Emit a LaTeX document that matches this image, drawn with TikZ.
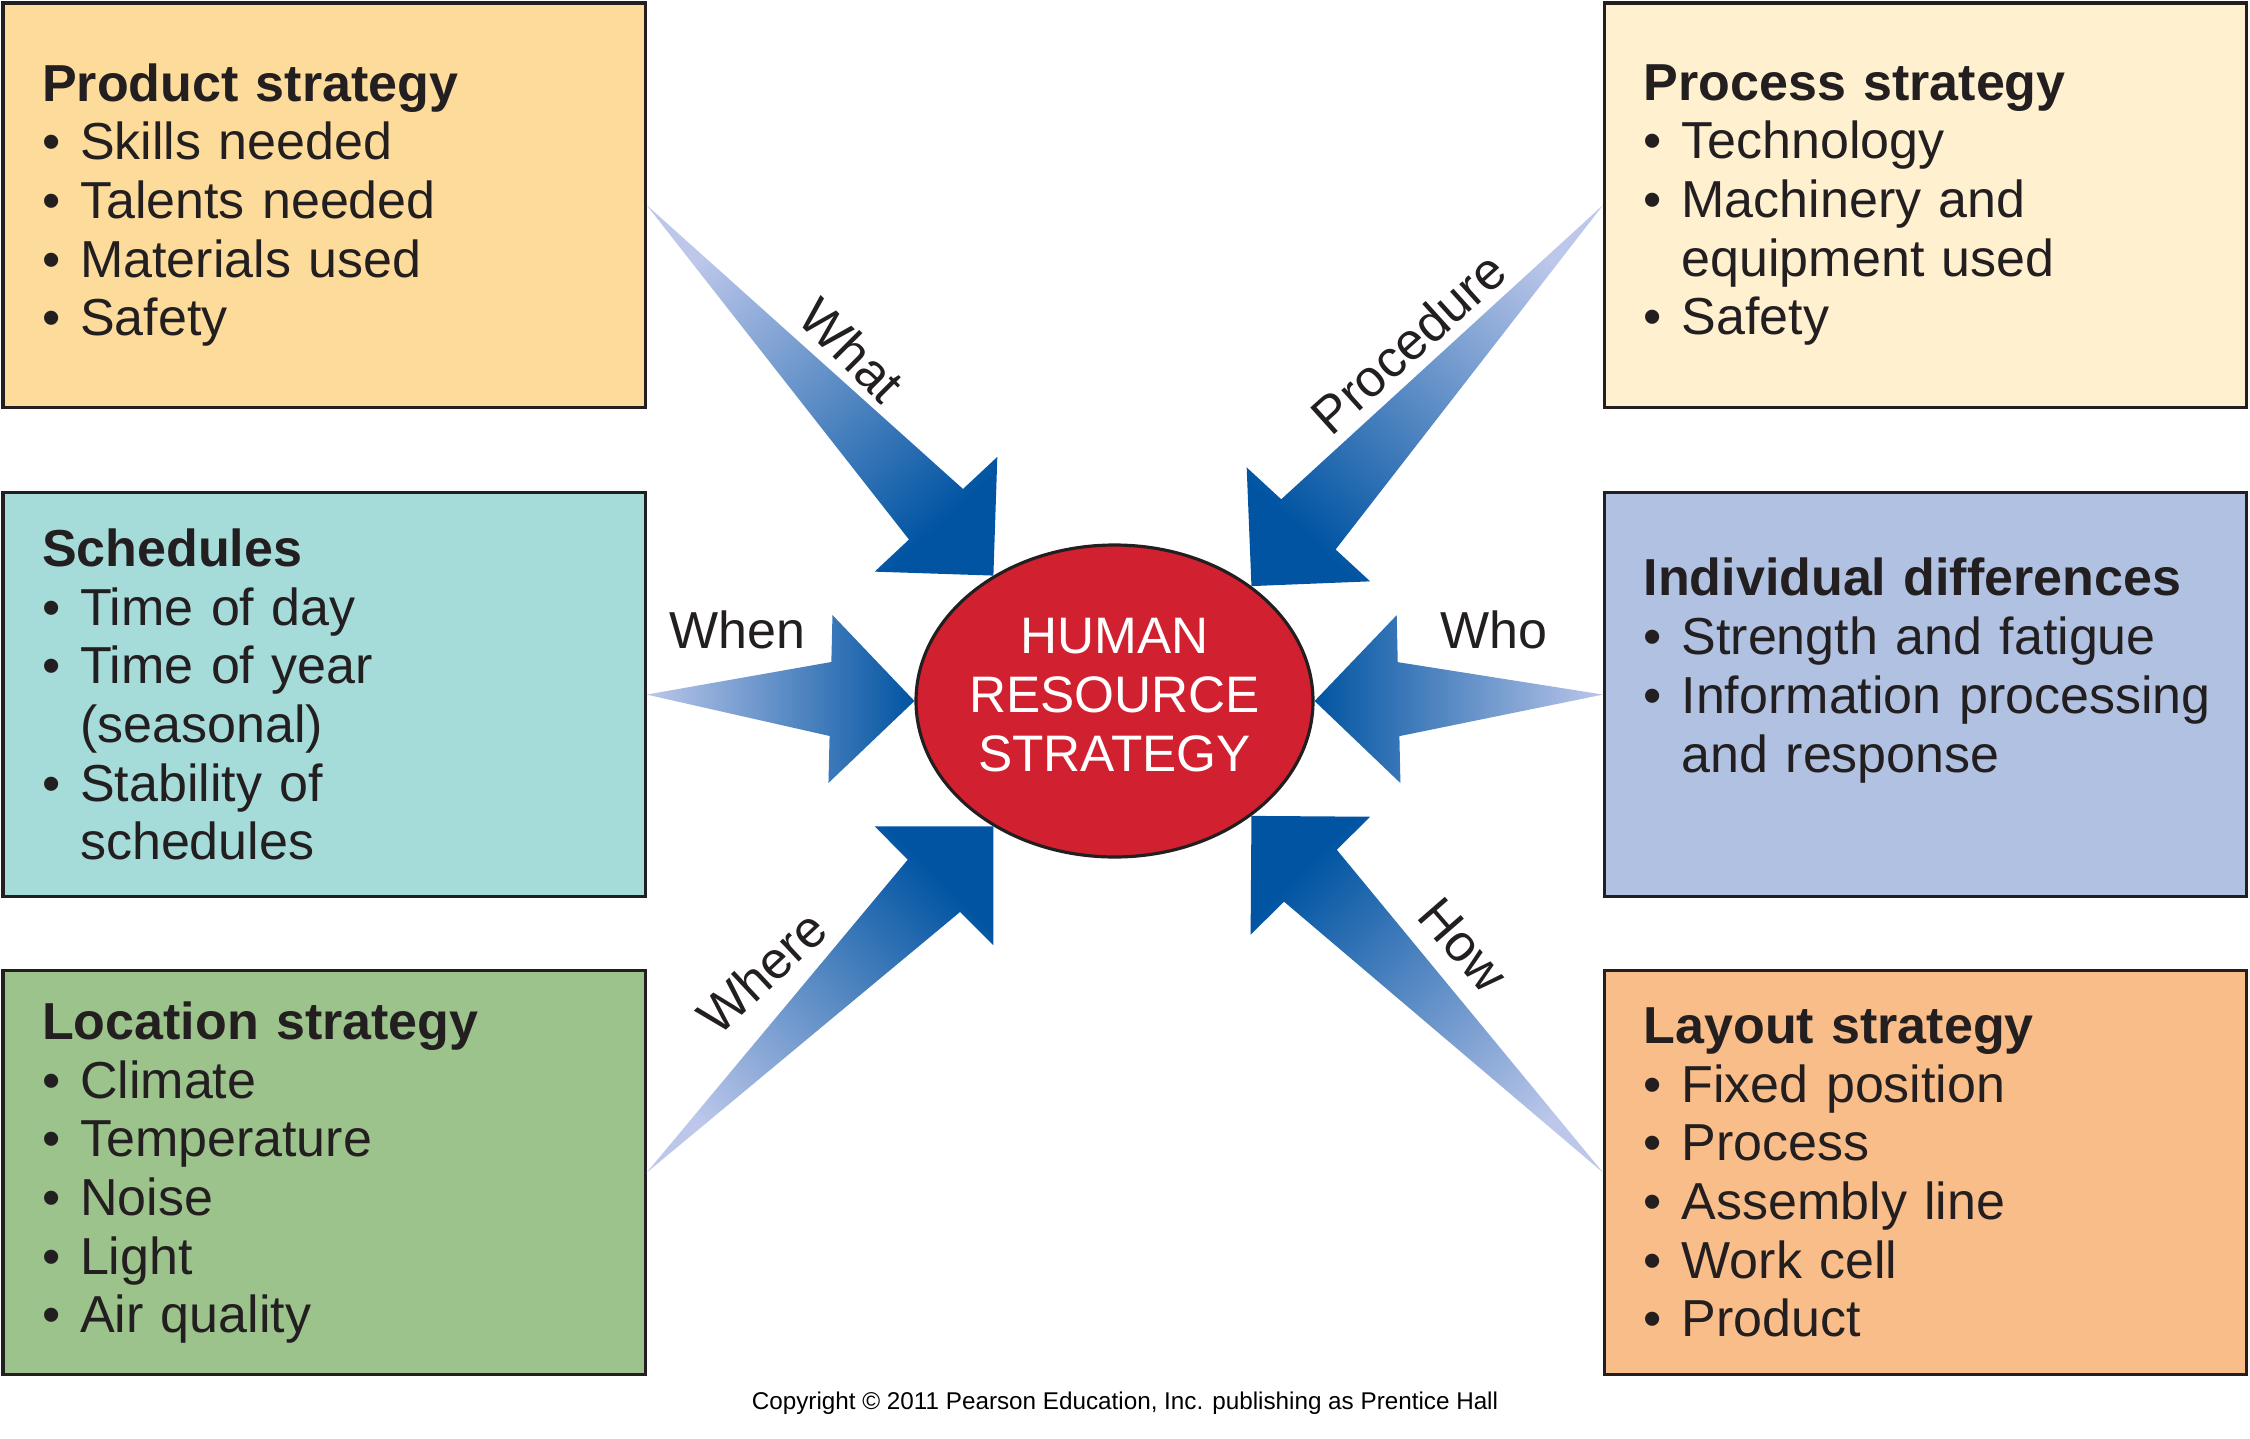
\documentclass[tikz,border=0pt]{standalone}
\usepackage{fontspec}
\setmainfont{Liberation Sans}
\usepackage{tikz}
\usetikzlibrary{calc,positioning,shapes.geometric}
\definecolor{ink}{HTML}{231F20}
\definecolor{prodfill}{HTML}{FDDC9B}
\definecolor{procfill}{HTML}{FFF0CF}
\definecolor{schedfill}{HTML}{A5DBD8}
\definecolor{indivfill}{HTML}{B1C1E1}
\definecolor{locfill}{HTML}{9DC38C}
\definecolor{layfill}{HTML}{F9BD89}
\definecolor{hrsred}{HTML}{D1202F}
\definecolor{arrowlight}{RGB}{188,199,234}
\definecolor{arrowdark}{RGB}{0,84,162}

\newcommand{\bul}{\makebox[0.38cm][l]{\textbullet}}
\newcommand{\contd}{\hspace*{0.38cm}}
% fat tapering arrow: #1 tail, #2 tip, #3 shading angle
\newcommand{\fatarrow}[3]{%
  \coordinate (fa-base) at ($(#2)!0.84cm!(#1)$);
  \shade[top color=arrowlight,bottom color=arrowdark,shading angle=#3]
    (#1) -- ($(fa-base)!0.37cm!90:(#2)$) -- ($(fa-base)!0.84cm!90:(#2)$)
    -- (#2) -- ($(fa-base)!0.84cm!-90:(#2)$) -- ($(fa-base)!0.37cm!-90:(#2)$) -- cycle;
}

\begin{document}
\begin{tikzpicture}[
  hrbox/.style={draw=ink,line width=0.9pt,anchor=north west,minimum width=6.42cm,
    minimum height=4.04cm,text width=5.64cm,inner xsep=0.39cm,inner ysep=0pt,
    align=left,text=ink,font=\fontsize{14.8}{16.7}\selectfont},
  hrsnode/.style={ellipse,draw=ink,line width=0.9pt,fill=hrsred,text=white,
    minimum width=3.97cm,minimum height=3.12cm,inner sep=0pt,
    font=\fontsize{14.6}{16.8}\selectfont},
  lbl/.style={text=ink,inner sep=0pt,font=\fontsize{14.8}{16.5}\selectfont}]
\fill[white] (0,0) rectangle (22.5,-14.38);
\useasboundingbox (0,0) rectangle (22.5,-14.38);

% boxes
\node[hrbox,fill=prodfill] (pst) at (0.015,-0.015) {\textbf{Product strategy}\\
  \bul Skills needed\\ \bul Talents needed\\ \bul Materials used\\ \bul Safety};
\node[hrbox,fill=schedfill] (sch) at (0.015,-4.91) {\textbf{Schedules}\\
  \bul Time of day\\ \bul Time of year\\ \contd(seasonal)\\ \bul Stability of\\ \contd schedules};
\node[hrbox,fill=locfill] (loc) at (0.015,-9.69) {\textbf{Location strategy}\\
  \bul Climate\\ \bul Temperature\\ \bul Noise\\ \bul Light\\ \bul Air quality};
\node[hrbox,fill=procfill] (prc) at (16.03,-0.015) {\textbf{Process strategy}\\
  \bul Technology\\ \bul Machinery and\\ \contd equipment used\\ \bul Safety};
\node[hrbox,fill=indivfill] (ind) at (16.03,-4.91) {\textbf{\mbox{Individual differences}}\\
  \bul Strength and fatigue\\ \bul\mbox{Information processing}\\ \contd and response\par\vspace*{0.48cm}};
\node[hrbox,fill=layfill] (lay) at (16.03,-9.69) {\textbf{Layout strategy}\\
  \bul Fixed position\\ \bul Process\\ \bul Assembly line\\ \bul Work cell\\ \bul Product};

\node[hrsnode] (hrs) at (11.145,-7.01)
  {\makebox[2.4cm]{\begin{tabular}{@{}c@{}}HUMAN\\RESOURCE\\STRATEGY\end{tabular}}};

% arrows into the centre
\fatarrow{pst.east}{hrs.134}{43}
\fatarrow{sch.east}{hrs.west}{90}
\fatarrow{loc.east}{hrs.226}{134.5}
\fatarrow{prc.west}{hrs.40}{317.5}
\fatarrow{ind.west}{hrs.east}{270}
\fatarrow{lay.west}{hrs.320}{224.8}

\node[lbl,rotate=-45] (lwhat) at (8.52,-3.50) {What};
\node[lbl,rotate=42] (lproc) at (14.08,-3.43) {Procedure};
\node[lbl] (lwhen) at (7.37,-6.30) {When};
\node[lbl] (lwho) at (14.94,-6.30) {Who};
\node[lbl,rotate=43] (lwhere) at (7.62,-9.72) {Where};
\node[lbl,rotate=-49] (lhow) at (14.63,-9.45) {How};

\node[text=black,font=\fontsize{6.9}{8}\selectfont] (copy) at (11.25,-14.03)
  {Copyright \textcopyright{} 2011 Pearson Education, Inc. publishing as Prentice Hall};
\end{tikzpicture}
\end{document}
